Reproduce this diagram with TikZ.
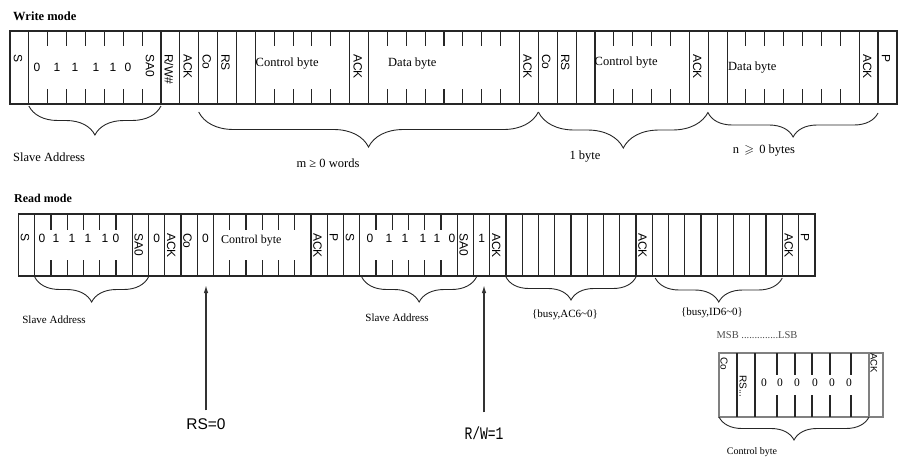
\documentclass[tikz,border=0pt]{standalone}
\usepackage{amssymb}
\usepackage{graphicx}
\usepackage{fontspec}
\setmainfont{Liberation Serif}
\setsansfont{Liberation Sans}
\setmonofont{Liberation Mono}
\usetikzlibrary{arrows.meta,decorations.pathreplacing}
% cell boundaries of the two frames
\newcommand{\wx}[1]{10+#1*18.87}
\newcommand{\rx}[1]{18.5+#1*16.25}
\tikzset{
  frame/.style={
    draw=black!85,
    line width=1.5pt
  },
  divider/.style={
    draw=black!85,
    line width=1.1pt
  },
  field/.style={
    rotate=-90,
    anchor=west,
    inner sep=0pt,
    font=\fontsize{12}{12}\sffamily
  },
  bit/.style={
    inner sep=0pt,
    font=\fontsize{12}{12}\sffamily
  },
  bytename/.style={
    anchor=west,
    inner sep=0pt,
    font=\fontsize{12.5}{13}\selectfont
  },
  modetitle/.style={
    anchor=west,
    inner sep=0pt,
    font=\fontsize{12.5}{13}\selectfont\bfseries
  },
  caption/.style={
    inner sep=0pt,
    font=\fontsize{12.5}{13}\selectfont
  },
  smallcaption/.style={
    inner sep=0pt,
    font=\fontsize{11}{12}\selectfont
  },
  group/.style={
    decorate,
    decoration={brace, mirror, amplitude=#1},
    draw=black!85,
    line width=0.9pt
  },
  group/.default=24,
  pointer/.style={
    -{Latex[length=8pt,width=4.5pt]},
    draw=black!80,
    line width=1.3pt
  },
  signal/.style={
    inner sep=0pt,
    font=\fontsize{15.5}{16}\sffamily
  },
  monolabel/.style={
    inner sep=0pt,
    font=\fontsize{13}{14}\ttfamily
  }
}

\begin{document}
\begin{tikzpicture}[x=1pt,y=-1pt]
  \useasboundingbox (0,0) rectangle (901,461);

  % write mode
  \node[modetitle] (wtitle) at (13,16) {Write mode};
  \draw[frame] (\wx{0},31) rectangle (\wx{47},104);
  \foreach \i in {1,8,9,10,11,12,13,18,19,27,28,29,30,31,36,37,38,45,46}
    \draw[divider] (\wx{\i},31) -- (\wx{\i},104);
  \foreach \i in {2,3,4,5,6,7,14,15,16,17,20,21,22,23,24,25,26,32,33,34,35,39,40,41,42,43,44}
    \draw[divider] (\wx{\i},31) -- ++(0,15) (\wx{\i},104) -- ++(0,-15);
  \foreach \c/\t in {0/S,7/SA0,8/{R/W\#},9/ACK,10/Co,11/RS,18/ACK,27/ACK,28/Co,29/RS,36/ACK,45/ACK,46/P}
    \node[field] (wf\c) at (\wx{\c}+8,54) {\t};
  \foreach \x/\b [count=\k] in {37/0,57/1,75/1,96/1,113/1,128/0}
    \node[bit] (wbit\k) at (\x,67) {\b};
  \node[bytename] (wctrl1) at (255.5,64) {Control byte};
  \node[bytename] (wdata1) at (388,64) {Data byte};
  \node[bytename] (wctrl2) at (594.5,63) {Control byte};
  \node[bytename] (wdata2) at (728,68) {Data byte};

  \draw[group=29] (\wx{1},106) -- (\wx{8},106);
  \draw[group=35] (\wx{10},112) -- (\wx{28},112);
  \draw[group=36] (\wx{28},112) -- (\wx{37},112);
  \draw[group=24] (\wx{37},113) -- (\wx{46},113);
  \node[caption, anchor=west] (wslave) at (13,157) {Slave Address};
  \node[caption] (wwords) at (328,163) {m ≥ 0 words};
  \node[caption] (wbyte) at (585,157) {1 byte};
  \node[caption] (wbytes) at (764,151) {n \,$\geqslant$\, 0 bytes};

  % read mode
  \node[modetitle, font=\fontsize{12}{13}\selectfont\bfseries] (rtitle) at (14,198) {Read mode};
  \draw[frame] (\rx{0},214) rectangle (\rx{49},276);
  \foreach \i in {1,7,8,9,10,11,12,18,19,20,21,27,28,29,30,31,32,33,34,35,36,37,38,39,40,41,42,43,44,45,46,47,48}
    \draw[divider] (\rx{\i},214) -- (\rx{\i},276);
  \foreach \i in {2,3,4,5,6,13,14,15,16,17,22,23,24,25,26}
    \draw[divider] (\rx{\i},214) -- ++(0,16) (\rx{\i},276) -- ++(0,-16);
  \foreach \c/\t in {0/S,7/SA0,9/ACK,10/Co,18/ACK,19/P,20/S,27/SA0,29/ACK,38/ACK,47/ACK,48/P}
    \node[field] (rf\c) at (\rx{\c}+6.4,233) {\t};
  \foreach \c/\b in {8/0,11/0,28/1}
    \node[bit] (rb\c) at (\rx{\c}+8.1,238) {\b};
  \foreach \x/\b [count=\k] in {42/0,56/1,72/1,88/1,105/1,116/0}
    \node[bit] (rabit\k) at (\x,238) {\b};
  \foreach \x/\b [count=\k] in {370/0,389/1,405/1,423/1,437/1,452/0}
    \node[bit] (rbbit\k) at (\x,238) {\b};
  \node[bytename, font=\fontsize{12}{13}\selectfont] (rctrl) at (221,241) {Control byte};

  \draw[group=25] (\rx{1},277) -- (\rx{8},277);
  \draw[group=25] (\rx{21}+2,277) -- (\rx{28}+3,277);
  \draw[group=23] (\rx{30},277) -- (\rx{38},277);
  \draw[group=24] (\rx{39}+3,278) -- (\rx{47},278);
  \node[smallcaption] (rslave1) at (54,320) {Slave Address};
  \node[smallcaption] (rslave2) at (397,318) {Slave Address};
  \node[smallcaption] (rbusyac) at (565,315) {\{busy,AC6\textasciitilde 0\}};
  \node[smallcaption] (rbusyid) at (712,313) {\{busy,ID6\textasciitilde 0\}};

  % RS and R/W markers
  \coordinate (rstip) at (206,285);
  \coordinate (rwtip) at (484,285);
  \node[signal] (rs0) at (206,424) {RS=0};
  \node[monolabel] (rw1) at (484,433) {\scalebox{1}[1.35]{R/W=1}};
  \draw[pointer, shorten <=8pt] (rs0) -- (rstip);
  \draw[pointer, shorten <=14pt] (rw1) -- (rwtip);

  % control byte detail
  \node[caption, font=\fontsize{10.5}{11}\selectfont, text=black!70] (msb) at (757,335) {MSB ..............LSB};
  \draw[frame, draw=black!50, line width=1.1pt] (719,353) rectangle (883,417);
  \foreach \x in {737,755}
    \draw[divider] (\x,353) -- (\x,417);
  \draw[divider, draw=black!50] (869,353) -- (869,417);
  \foreach \x in {777,795,812,830,851}
    \draw[divider] (\x,353) -- ++(0,22) (\x,417) -- ++(0,-22);
  \node[field, font=\fontsize{10}{10}\sffamily] (cbco) at (724,357) {Co};
  \node[field, font=\fontsize{10}{10}\sffamily] (cbrs) at (743,375) {RS...};
  \node[field, font=\fontsize{9.5}{10}\sffamily] (cback) at (874,353) {ACK};
  \foreach \x [count=\k] in {764,780,797,815,832,849}
    \node[caption, font=\fontsize{11.5}{12}\selectfont] (cbbit\k) at (\x,383) {0};
  \draw[group=23] (719,417) -- (869,417);
  \node[caption, font=\fontsize{10}{11}\selectfont] (cbname) at (752,452) {Control byte};
\end{tikzpicture}
\end{document}
